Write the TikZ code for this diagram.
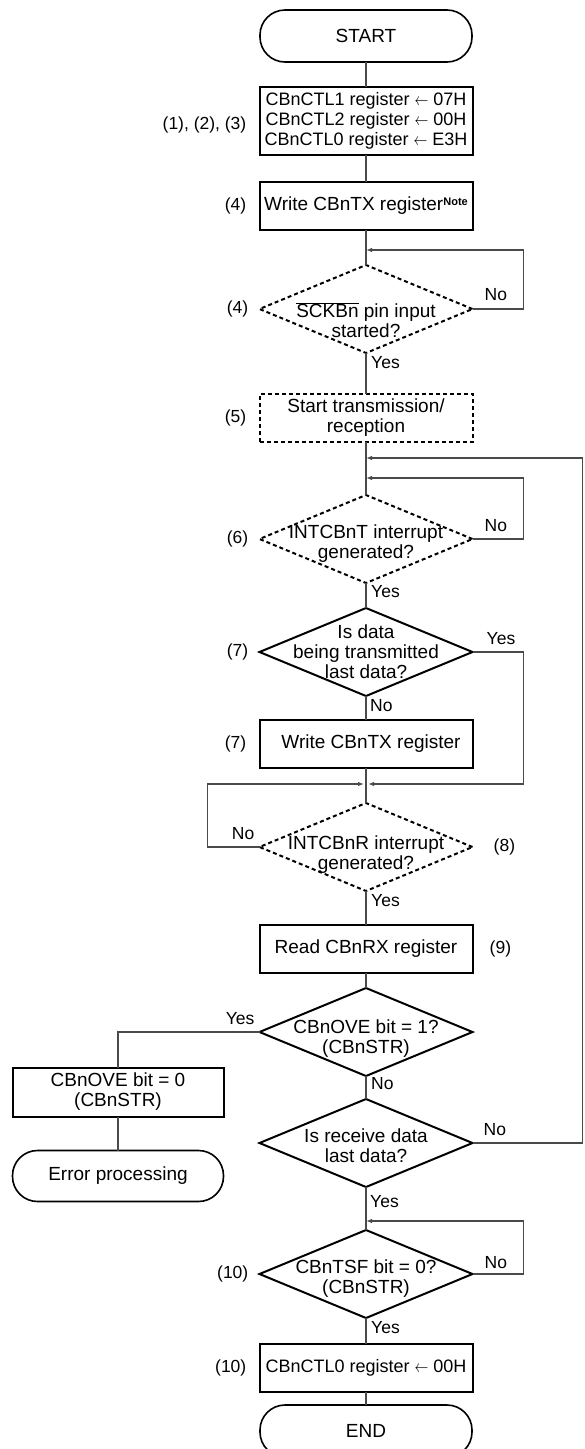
\documentclass[tikz,border=0pt]{standalone}
\usepackage{fontspec}
\setmainfont{Liberation Sans}
\usetikzlibrary{arrows.meta, positioning, shapes.geometric}
\definecolor{wire}{HTML}{4A4A4A}
\newcommand{\larr}{\scalebox{0.8}[1]{$\leftarrow$}}

\begin{document}
\begin{tikzpicture}[
  x=1pt, y=-1pt,
  font=\fontsize{19}{20}\selectfont,
  term/.style={draw, line width=1.6pt, rounded corners=25pt, minimum width=212pt,
               minimum height=52pt, inner sep=0pt, outer sep=0pt},
  proc/.style={draw, line width=2pt, minimum width=213pt, minimum height=48pt,
               inner sep=0pt, outer sep=0pt, align=center},
  regbox/.style={proc, font=\fontsize{18}{20}\selectfont},
  hwproc/.style={proc, dash pattern=on 4pt off 3pt},
  decide/.style={diamond, draw, line width=2pt, minimum width=213pt,
                 minimum height=88pt, inner sep=0pt, outer sep=0pt},
  hwdecide/.style={decide, dash pattern=on 4pt off 3pt},
  dtext/.style={align=center, inner sep=0pt},
  num/.style={font=\fontsize{17.5}{20}\selectfont, inner sep=0pt},
  yn/.style={font=\fontsize{17.5}{20}\selectfont, inner sep=0pt},
  line/.style={draw=wire, line width=1.2pt},
  arr/.style={line, -{Latex[length=6pt, width=4.5pt]}},
]
\useasboundingbox (0,0) rectangle (584,1449);

% main column
\node[term] (start) at (366,36) {START};
\node[regbox, minimum height=68pt, below=25pt of start] (init)
  {CBnCTL1 register \larr{} 07H\\CBnCTL2 register \larr{} 00H\\CBnCTL0 register \larr{} E3H};
\node[proc, below=27pt of init] (wtx) {Write CBnTX register\raisebox{5pt}{\fontsize{11}{11}\selectfont\bfseries Note}};
\node[hwdecide, below=35pt of wtx] (sck) {};
\node[dtext] (sckt) at ([yshift=-11pt]sck) {$\overline{\mbox{SCKBn}}$ pin input\\started?};
\node[hwproc, below=41pt of sck] (strt) {Start transmission/\\reception};
\node[hwdecide, below=53pt of strt] (int) {};
\node[dtext] (intt) at ([yshift=-5pt]int) {INTCBnT interrupt\\generated?};
\node[decide, below=25pt of int] (last) {};
\node[dtext] (lastt) at (last) {Is data\\being transmitted\\last data?};
\node[proc, below=24pt of last] (wtx2) {\hspace*{10pt}Write CBnTX register};
\node[hwdecide, below=35pt of wtx2] (rx) {};
\node[dtext] (rxt) at ([yshift=-8pt]rx) {INTCBnR interrupt\\generated?};
\node[proc, below=34pt of rx] (rdrx) {Read CBnRX register};
\node[decide, below=15pt of rdrx] (ove) {};
\node[dtext] (ovet) at ([yshift=-7pt]ove) {CBnOVE bit = 1?\\(CBnSTR)};
\node[decide, below=23pt of ove] (rcv) {};
\node[dtext] (rcvt) at ([yshift=-3pt]rcv) {Is receive data\\last data?};
\node[decide, below=43pt of rcv] (tsf) {};
\node[dtext] (tsft) at ([yshift=-5pt]tsf) {CBnTSF bit = 0?\\(CBnSTR)};
\node[regbox, below=26pt of tsf] (ctl0) {CBnCTL0 register \larr{} 00H};
\node[term, below=13pt of ctl0] (end) {END};

% error branch
\node[proc, minimum width=211pt, minimum height=49pt] (clrove) at (118,1092) {CBnOVE bit = 0\\(CBnSTR)};
\node[term, minimum width=211pt, minimum height=51pt, below=34pt of clrove] (err) {Error processing};

% step numbers
\node[num, left=13pt of init, yshift=-4pt] (lbl1) {(1), (2), (3)};
\node[num, left=13pt of wtx] (lbl4a) {(4)};
\node[num, left=11pt of sck] (lbl4b) {(4)};
\node[num, left=13pt of strt] (lbl5) {(5)};
\node[num, left=11pt of int] (lbl6) {(6)};
\node[num, left=11pt of last] (lbl7a) {(7)};
\node[num, left=13pt of wtx2] (lbl7b) {(7)};
\node[num, right=21pt of rx] (lbl8) {(8)};
\node[num, right=17pt of rdrx] (lbl9) {(9)};
\node[num, left=11pt of tsf] (lbl10a) {(10)};
\node[num, left=13pt of ctl0] (lbl10b) {(10)};

% merge points
\coordinate (j1) at ([yshift=-20pt]wtx.south);
\coordinate (j2) at ([yshift=-16pt]strt.south);
\coordinate (j3) at ([yshift=-36pt]strt.south);
\coordinate (j4) at ([yshift=-16pt]wtx2.south);
\coordinate (j5) at ([yshift=9pt]tsf.north);

% trunk
\draw[line] (start) -- (init);
\draw[line] (init) -- (wtx);
\draw[line] (wtx) -- (sck);
\draw[line] (sck) -- (strt);
\draw[line] (strt) -- (int);
\draw[line] (int) -- (last);
\draw[line] (last) -- (wtx2);
\draw[line] (wtx2) -- (rx);
\draw[line] (rx) -- (rdrx);
\draw[line] (rdrx) -- (ove);
\draw[line] (ove) -- (rcv);
\draw[line] (rcv) -- (tsf);
\draw[line] (tsf) -- (ctl0);
\draw[line] (ctl0) -- (end);

% loops and branches
\draw[arr] (sck.east) -- ++(51,0) |- (j1);
\draw[arr] (int.east) -- ++(51,0) |- (j3);
\draw[arr, shorten >=2pt] (last.east) -- ++(51,0) |- (j4);
\draw[arr, shorten >=2pt] (rx.west) -- ++(-52,0) |- (j4);
\draw[line] (ove.west) -| (clrove.north);
\draw[line] (clrove) -- (err);
\draw[arr] (rcv.east) -- ++(110,0) |- (j2);
\draw[arr] (tsf.east) -- ++(51,0) |- (j5);

% branch labels
\node[yn, anchor=south west] (no1) at ([xshift=12pt,yshift=8pt]sck.east) {No};
\node[yn, anchor=north west] (yes1) at ([xshift=5pt,yshift=-3pt]sck.south) {Yes};
\node[yn, anchor=south west] (no2) at ([xshift=12pt,yshift=7pt]int.east) {No};
\node[yn, anchor=north west] (yes2) at ([xshift=5pt,yshift=-2pt]int.south) {Yes};
\node[yn, anchor=south west] (yes3) at ([xshift=14pt,yshift=7pt]last.east) {Yes};
\node[yn, anchor=north west] (no3) at ([xshift=4pt,yshift=-3pt]last.south) {No};
\node[yn, anchor=south east] (no4) at ([xshift=-5pt,yshift=7pt]rx.west) {No};
\node[yn, anchor=north west] (yes4) at ([xshift=5pt,yshift=-3pt]rx.south) {Yes};
\node[yn, anchor=south east] (yes5) at ([xshift=-5pt,yshift=7pt]ove.west) {Yes};
\node[yn, anchor=north west] (no5) at ([xshift=5pt,yshift=-1pt]ove.south) {No};
\node[yn, anchor=south west] (no6) at ([xshift=11pt,yshift=7pt]rcv.east) {No};
\node[yn, anchor=north west] (yes6) at ([xshift=4pt,yshift=-8pt]rcv.south) {Yes};
\node[yn, anchor=south west] (no7) at ([xshift=12pt,yshift=5pt]tsf.east) {No};
\node[yn, anchor=north west] (yes7) at ([xshift=5pt,yshift=-3pt]tsf.south) {Yes};
\end{tikzpicture}
\end{document}
